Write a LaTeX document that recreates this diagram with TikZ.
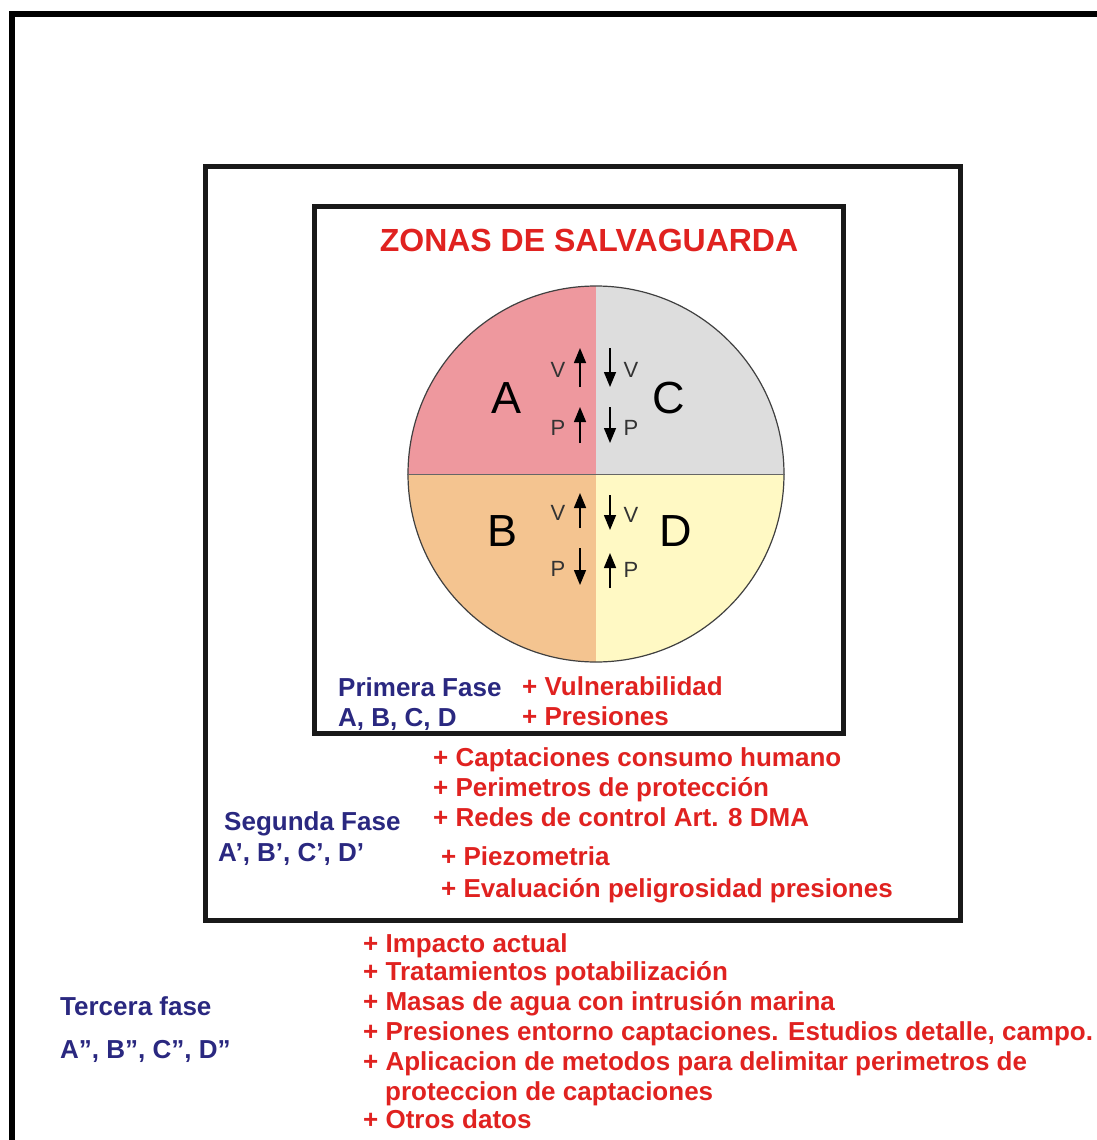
\documentclass[tikz,border=0pt]{standalone}
\usepackage{fontspec}
\setmainfont{Liberation Sans}
\usepackage{tikz}
\usetikzlibrary{positioning}
\usetikzlibrary{arrows.meta}

\definecolor{rojo}{RGB}{224,34,32}
\definecolor{azul}{RGB}{42,40,128}
\definecolor{zonaA}{RGB}{238,152,158}
\definecolor{zonaB}{RGB}{244,196,144}
\definecolor{zonaC}{RGB}{221,221,221}
\definecolor{zonaD}{RGB}{255,249,196}

\tikzset{marco/.style = {draw=black!90, line width=5pt},
  flecha/.style = {-{Triangle[width=12pt,length=15pt]}, line width=1.5pt}}

\begin{document}
\begin{tikzpicture}[x=1pt,y=1pt,
    titulo/.style={font=\fontsize{32}{36}\selectfont\bfseries, text=rojo},
    fase/.style={anchor=base west, inner sep=0pt, font=\fontsize{26}{30}\selectfont\bfseries, text=azul},
    item/.style={anchor=base west, inner sep=0pt, font=\fontsize{26}{30}\selectfont\bfseries, text=rojo},
    letra/.style={font=\fontsize{45}{50}\selectfont},
    vp/.style={inner sep=0pt, font=\fontsize{22}{24}\selectfont, text=black!80}]
            \useasboundingbox (0,0) rectangle (1096,-1140);
            % marcos
            \draw[line width=6.5pt] (12,-1145) -- (12,-14) -- (1100,-14);
            \draw[marco] (205,-166) rectangle (960,-920);
            \draw[marco] (314,-206) rectangle (843,-733);
            % circulo de zonas
            \coordinate (o) at (596,-474);
            \fill[zonaA] (o) -- ++(-188,0) arc[start angle=180, end angle=90, radius=188] -- cycle;
            \fill[zonaC] (o) -- ++(0,188) arc[start angle=90, end angle=0, radius=188] -- cycle;
            \fill[zonaB] (o) -- ++(-188,0) arc[start angle=180, end angle=270, radius=188] -- cycle;
            \fill[zonaD] (o) -- ++(188,0) arc[start angle=0, end angle=-90, radius=188] -- cycle;
            \node[circle, draw=black!75, line width=1.2pt, minimum size=376pt, inner sep=0pt] (zona) at (o) {};
            \draw[black!60, line width=0.8pt] (zona.west) -- (zona.east);
            \node[titulo] (titulo) at (589,-240) {ZONAS DE SALVAGUARDA};
            \node[letra] (A) at (507,-398) {A};
            \node[letra] (C) at (669,-398) {C};
            \node[letra] (B) at (503,-531) {B};
            \node[letra] (D) at (676,-531) {D};
            % flechas V y P
            \foreach \x/\ya/\yb in {580/387/348, 580/443/407, 610/348/387, 610/407/443,
                                    580/528/493, 580/548/585, 610/495/530, 610/588/553}
                \draw[flecha] (\x,-\ya) -- (\x,-\yb);
            \foreach \x/\y/\t in {558/370/V, 558/428/P, 631/370/V, 631/428/P,
                                  558/513/V, 558/569/P, 631/515/V, 631/570/P}
                \node[vp] at (\x,-\y) {\t};
            % primera fase
            \node[fase] (f1) at (338,-696) {Primera Fase};
            \node[fase] (f1z) at (338,-726) {A, B, C, D};
            \node[item] (v1) at (522,-695) {+ Vulnerabilidad};
            \node[item] (p1) at (522,-725) {+ Presiones};
            % segunda fase
            \node[fase] (f2) at (224,-830) {Segunda Fase};
            \node[fase] (f2z) at (218,-861) {A', B', C', D'};
            \node[item] (s1) at (433,-766) {+ Captaciones consumo humano};
            \node[item] (s2) at (433,-796) {+ Perimetros de protección};
            \node[item] (s3) at (433,-826) {+ Redes de control Art. 8 DMA};
            \node[item] (s4) at (441,-865) {+ Piezometria};
            \node[item] (s5) at (441,-897) {+ Evaluación peligrosidad presiones};
            % tercera fase
            \node[fase] (f3) at (60,-1015) {Tercera fase};
            \node[fase] (f3z) at (60,-1058) {A'', B'', C'', D''};
            \node[item] (t1) at (363,-952) {+ Impacto actual};
            \node[item] (t2) at (363,-980) {+ Tratamientos potabilización};
            \node[item] (t3) at (363,-1010) {+ Masas de agua con intrusión marina};
            \node[item] (t4) at (363,-1040) {+ Presiones entorno captaciones. Estudios detalle, campo.};
            \node[item] (t5) at (363,-1070) {+ Aplicacion de metodos para delimitar perimetros de};
            \node[item] (t6) at (385,-1100) {proteccion de captaciones};
            \node[item] (t7) at (363,-1128) {+ Otros datos};
        \end{tikzpicture}
\end{document}
